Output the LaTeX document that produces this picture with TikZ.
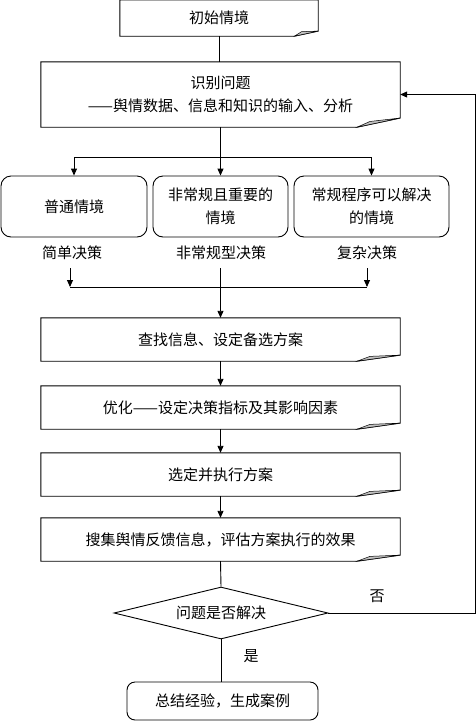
\documentclass[tikz,border=0pt]{standalone}
\usepackage{fontspec}
\newfontfamily\cjk{Noto Sans CJK SC}
\usetikzlibrary{arrows.meta,calc,shapes.geometric}
\newcommand\docshape[1]{%
  \coordinate (#1-p) at ($(#1.south east)!0.12!(#1.south west)$);
  \coordinate (#1-q) at ($(#1.south east)!0.14!(#1.north east)$);
  \coordinate (#1-r) at ($(#1-p)!0.3!(#1-q) + (0,-3)$);
  \draw[ln] (#1.north west) -- (#1.north east) -- (#1-q) -- (#1-p) -- (#1.south west) -- cycle;
  \filldraw[fill=foldgray, draw=black, line width=0.5pt] (#1-p) -- (#1-r) -- (#1-q) -- cycle;
}
\definecolor{foldgray}{RGB}{192,192,192}
\begin{document}
\begin{tikzpicture}[x=1pt,y=-1pt,
  ln/.style={line width=0.9pt,draw=black},
  txt/.style={font=\cjk\fontsize{15}{22.5}\selectfont, text=black, align=center},
  docbox/.style={txt, inner sep=0pt, draw=none},
  rbox/.style={txt, draw=black, line width=0.9pt, rounded corners=10pt, inner sep=0pt},
  arr/.style={ln, -{Triangle[length=7pt,width=6pt]}},
  lab/.style={txt, inner sep=0pt}]
\useasboundingbox (0,0) rectangle (476,721);

\node[docbox, minimum width=198pt, minimum height=36pt] (b1) at (219,18) {初始情境};
\node[docbox, minimum width=359pt, minimum height=65pt] (b2) at (220.5,94.5) {识别问题\\——舆情数据、信息和知识的输入、分析};
\node[rbox, minimum width=146pt, minimum height=61pt] (bA) at (74,206.5) {普通情境};
\node[rbox, minimum width=135pt, minimum height=61pt] (bB) at (220.5,206.5) {非常规且重要的\\情境};
\node[rbox, minimum width=155pt, minimum height=61pt] (bC) at (371.5,206.5) {常规程序可以解决\\的情境};
\node[lab] (lA) at (72,253) {简单决策};
\node[lab] (lB) at (221,253) {非常规型决策};
\node[lab] (lC) at (367,253) {复杂决策};
\node[docbox, minimum width=359pt, minimum height=43pt] (b3) at (220.5,339.5) {查找信息、设定备选方案};
\node[docbox, minimum width=359pt, minimum height=43pt] (b4) at (220.5,407.5) {优化——设定决策指标及其影响因素};
\node[docbox, minimum width=359pt, minimum height=43pt] (b5) at (220.5,474.5) {选定并执行方案};
\node[docbox, minimum width=359pt, minimum height=43pt] (b6) at (220.5,539.5) {搜集舆情反馈信息，评估方案执行的效果};
\node[txt, diamond, draw=black, line width=0.9pt, inner sep=0pt, aspect=4.1, minimum width=214pt, minimum height=52pt] (dia) at (221,613) {问题是否解决};
\node[rbox, rounded corners=8pt, minimum width=191pt, minimum height=38pt] (bend) at (222.5,701) {总结经验，生成案例};
\node[lab] (no) at (377,596) {否};
\node[lab] (yes) at (251,656) {是};

\docshape{b1}
\docshape{b2}
\docshape{b3}
\docshape{b4}
\docshape{b5}
\docshape{b6}

% connectors
\draw[ln] (b1.south) -- (b1.south |- b2.north);
\coordinate (j1) at (220.5,157);
\draw[ln] (b2.south) -- (j1);
\draw[arr] (j1) -- (bB.north);
\draw[arr] (j1) -| (bA.north);
\draw[arr] (j1) -| (bC.north);

\coordinate (c1) at (70,268);
\coordinate (c3) at (367,268);
\coordinate (cm) at (220.5,268);
\coordinate (k1) at (70,287);
\coordinate (k3) at (367,287);
\draw[arr] (c1) -- (k1);
\draw[arr] (c3) -- (k3);
\draw[ln] (k1) -- (k3);
\draw[arr] (cm) -- (b3.north);

\draw[arr] (b3.south) -- (b4.north);
\draw[arr] (b4.south) -- (b5.north);
\draw[arr] (b5.south) -- (b6.north);
\draw[ln] (b6.south) -- (dia.north);
\draw[ln] (dia.south) -- (dia.south |- bend.north);
\coordinate (fb) at (475,613);
\draw[arr] (dia.east) -- (fb) |- (b2.east);
\end{tikzpicture}
\end{document}
